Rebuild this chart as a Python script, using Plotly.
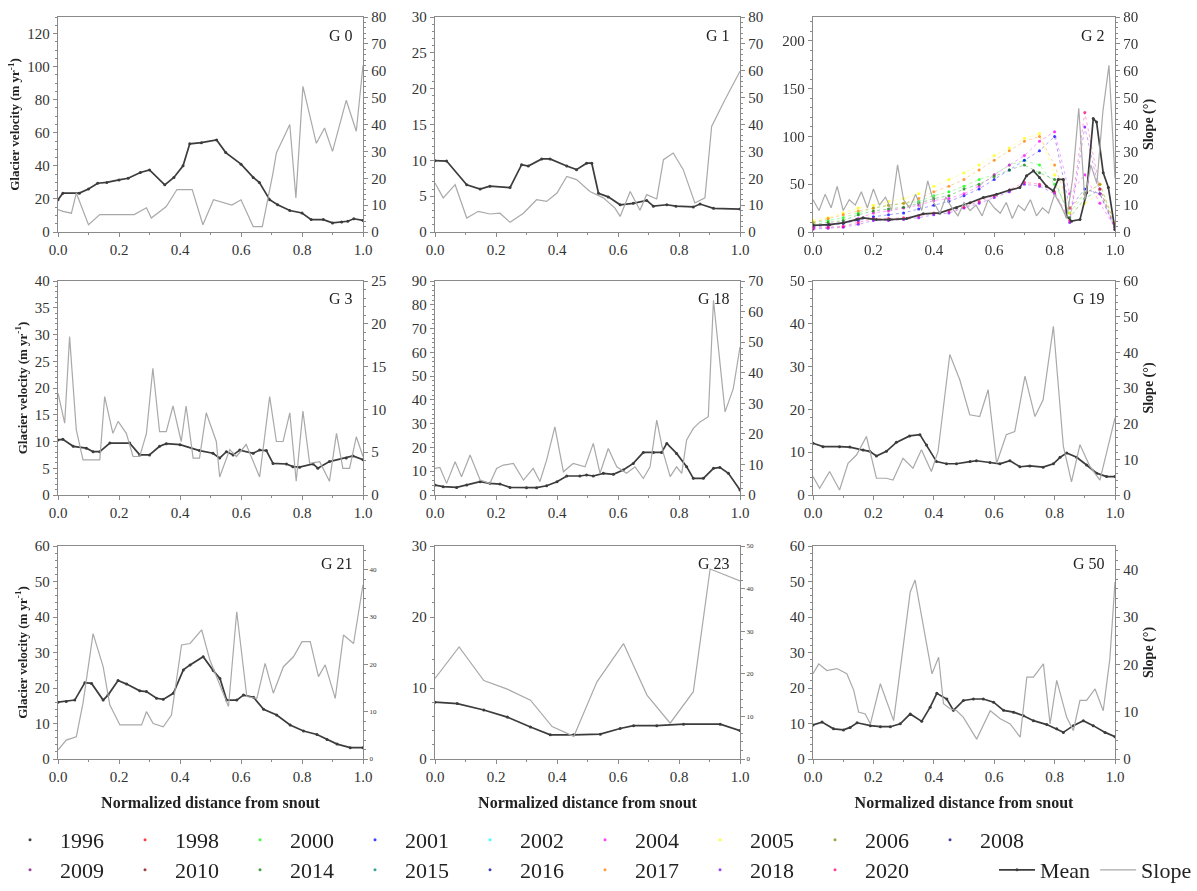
import plotly.graph_objects as go

# ---------------------------------------------------------------- data
YEARS = ["1996", "1998", "2000", "2001", "2002", "2004", "2005", "2006", "2008",
         "2009", "2010", "2014", "2015", "2016", "2017", "2018", "2020"]
YEAR_COLORS = ["#000000", "#ff0000", "#00ff00", "#0000ff", "#00ffff", "#ff00ff",
               "#ffff00", "#808000", "#000080", "#800080", "#800000", "#008000",
               "#008080", "#0000a0", "#ff8000", "#8000ff", "#ff0080"]

PANEL_NAMES = ["G 0", "G 1", "G 2", "G 3", "G 18", "G 19", "G 21", "G 23", "G 50"]

# G 0
G0_MEAN_X = [0, 0.016, 0.07, 0.1, 0.13, 0.16, 0.2, 0.23, 0.27, 0.3, 0.35, 0.38, 0.41,
             0.432, 0.47, 0.52, 0.55, 0.6, 0.64, 0.66, 0.694, 0.72, 0.76, 0.8, 0.83,
             0.87, 0.9, 0.93, 0.95, 0.97, 1.0]
G0_MEAN = [19.5, 23.5, 23.5, 26, 29.5, 30, 31.5, 32.5, 36, 37.5, 28.5, 33, 40, 53.3,
           54, 55.7, 48, 41, 33, 30, 19.5, 16.5, 13, 11.5, 7.5, 7.5, 5.5, 6, 6.5, 8, 7]
G0_SLOPE_X = [0, 0.016, 0.044, 0.06, 0.1, 0.137, 0.25, 0.29, 0.306, 0.355, 0.39, 0.44,
              0.475, 0.51, 0.57, 0.6, 0.64, 0.67, 0.705, 0.716, 0.76, 0.78, 0.803,
              0.847, 0.874, 0.9, 0.945, 0.978, 1.0]
G0_SLOPE = [8.3, 7.7, 7, 14.5, 2.7, 6.5, 6.5, 9, 5.2, 9.5, 15.8, 15.8, 2.7, 12, 10, 12,
            2, 2, 22, 29.4, 40, 12.7, 54.2, 33, 38.7, 30, 49, 37.5, 62]

# G 1
G1_MEAN_X = [0, 0.038, 0.104, 0.148, 0.18, 0.246, 0.284, 0.306, 0.35, 0.377, 0.432,
             0.464, 0.497, 0.514, 0.536, 0.568, 0.607, 0.65, 0.694, 0.716, 0.76, 0.79,
             0.847, 0.869, 0.913, 1.0]
G1_MEAN = [9.95, 9.9, 6.6, 6.0, 6.4, 6.2, 9.4, 9.2, 10.2, 10.2, 9.2, 8.7, 9.6, 9.6,
           5.4, 4.9, 3.8, 4.0, 4.4, 3.6, 3.8, 3.6, 3.5, 3.9, 3.3, 3.2]
G1_SLOPE_X = [0, 0.027, 0.066, 0.104, 0.142, 0.18, 0.213, 0.246, 0.29, 0.333, 0.366,
              0.4, 0.432, 0.464, 0.508, 0.552, 0.59, 0.607, 0.64, 0.672, 0.694, 0.727,
              0.749, 0.781, 0.814, 0.852, 0.885, 0.907, 0.951, 1.0]
G1_SLOPE = [18.2, 12.7, 17.6, 5.2, 7.7, 6.7, 7, 3.6, 7, 12, 11.4, 14.5, 20.7, 19.5,
            15.1, 12.7, 8.9, 5.8, 15.1, 8.1, 13.9, 12.3, 26.9, 29.4, 23.2, 10.8, 12.7,
            39.3, 49.3, 59.8]

# G 2
G2_MEAN_X = [0, 0.055, 0.1, 0.144, 0.166, 0.21, 0.254, 0.31, 0.365, 0.42, 0.475, 0.52,
             0.564, 0.608, 0.652, 0.685, 0.707, 0.73, 0.75, 0.773, 0.796, 0.812, 0.829,
             0.84, 0.856, 0.884, 0.906, 0.928, 0.939, 0.961, 0.978, 1.0]
G2_MEAN = [7, 7.7, 9.5, 13, 14.8, 13, 13, 14, 19, 20, 25.4, 30.6, 36, 39.4, 44, 46.5,
           58.8, 64, 57, 48, 43, 55, 55, 16.5, 11.3, 13, 41, 118.7, 115, 62, 46.5, 2.5]
G2_SLOPE_X = [0, 0.02, 0.04, 0.06, 0.08, 0.1, 0.12, 0.14, 0.16, 0.18, 0.2, 0.22, 0.24,
              0.26, 0.28, 0.3, 0.32, 0.34, 0.36, 0.38, 0.4, 0.42, 0.44, 0.46, 0.48, 0.5,
              0.52, 0.54, 0.56, 0.58, 0.6, 0.62, 0.64, 0.66, 0.68, 0.7, 0.72, 0.74,
              0.76, 0.78, 0.8, 0.82, 0.84, 0.86, 0.88, 0.9, 0.92, 0.94, 0.96, 0.98, 1.0]
G2_SLOPE = [12, 8, 14, 9, 17, 8, 12, 10, 15, 9, 16, 10, 13, 8, 25, 12, 9, 14, 8, 19,
            11, 7, 13, 9, 6, 11, 8, 10, 6, 12, 9, 7, 11, 5, 10, 8, 12, 6, 9, 7, 14, 10,
            5, 20, 46, 12, 25, 18, 45, 62, 20]

# G 2 annual velocity profiles (m/yr)
G2_YEAR_X = [0, 0.05, 0.1, 0.15, 0.2, 0.25, 0.3, 0.35, 0.4, 0.45, 0.5, 0.55, 0.6, 0.65,
             0.7, 0.75, 0.8, 0.85, 0.9, 0.95, 1.0]
G2_V2000 = [10, 12, 15, 20, 25, 28, 30, 32, 38, 42, 48, 55, 60, 70, 75, 70, 50, 20, 40, 50, 8]
G2_V2001 = [5, 7, 9, 12, 16, 18, 20, 24, 28, 32, 38, 45, 55, 65, 75, 85, 100, 25, 45, 40, 5]
G2_V2004 = [6, 8, 10, 14, 20, 22, 25, 28, 33, 35, 40, 48, 60, 70, 80, 95, 105, 40, 60, 30, 5]
G2_V2005 = [12, 15, 20, 25, 28, 32, 35, 40, 48, 55, 62, 70, 80, 88, 98, 103, 60, 20, 30, 40, 10]
G2_V2014 = [8, 10, 12, 18, 22, 24, 26, 30, 35, 38, 45, 50, 58, 65, 70, 62, 55, 15, 35, 45, 6]
G2_V2017 = [10, 14, 18, 22, 25, 28, 30, 35, 42, 48, 55, 65, 75, 85, 95, 100, 70, 25, 40, 50, 8]
G2_V2018 = [3, 4, 5, 8, 12, 12, 13, 15, 18, 20, 25, 30, 36, 42, 50, 48, 40, 10, 110, 40, 3]
G2_V2020 = [4, 5, 6, 10, 14, 14, 15, 17, 20, 22, 26, 32, 38, 44, 52, 50, 42, 12, 125, 45, 3]
G2_YEAR_SERIES = {"2000": G2_V2000, "2001": G2_V2001, "2004": G2_V2004, "2005": G2_V2005,
                  "2014": G2_V2014, "2017": G2_V2017, "2018": G2_V2018, "2020": G2_V2020}

# G 3
G3_MEAN_X = [0, 0.016, 0.05, 0.093, 0.115, 0.137, 0.17, 0.235, 0.268, 0.3, 0.333, 0.355,
             0.4, 0.464, 0.508, 0.53, 0.552, 0.574, 0.596, 0.64, 0.661, 0.683, 0.705,
             0.749, 0.77, 0.792, 0.836, 0.852, 0.89, 0.945, 0.967, 1.0]
G3_MEAN = [10.3, 10.4, 9.1, 8.75, 8.1, 8.1, 9.7, 9.7, 7.5, 7.5, 9.1, 9.6, 9.4, 8.3, 7.8,
           6.9, 8.1, 7.5, 8.4, 7.8, 8.4, 8.3, 5.9, 5.8, 5.3, 5.2, 5.8, 5.0, 6.25, 6.9,
           7.3, 6.6]
G3_SLOPE_X = [0, 0.022, 0.038, 0.06, 0.082, 0.115, 0.137, 0.153, 0.18, 0.197, 0.224,
              0.246, 0.268, 0.29, 0.311, 0.333, 0.355, 0.377, 0.404, 0.42, 0.443, 0.464,
              0.486, 0.519, 0.53, 0.563, 0.585, 0.617, 0.661, 0.694, 0.716, 0.738, 0.76,
              0.781, 0.803, 0.825, 0.858, 0.89, 0.913, 0.934, 0.956, 0.978, 1.0]
G3_SLOPE = [11.9, 8.4, 18.5, 7.6, 4.1, 4.1, 4.1, 11.5, 7.2, 8.6, 7.2, 4.5, 4.5, 7.2, 14.8,
            7.4, 7.4, 10.4, 6.25, 10.4, 4.3, 4.3, 9.6, 6.25, 2.1, 5.3, 4.5, 5.9, 2.1, 11.5,
            6.25, 6.25, 9.6, 1.6, 9.8, 3.7, 3.9, 1.6, 7.2, 3.1, 3.1, 6.8, 4.5]

# G 18
G18_MEAN_X = [0, 0.027, 0.071, 0.104, 0.148, 0.18, 0.213, 0.246, 0.3, 0.333, 0.366, 0.4,
              0.432, 0.475, 0.497, 0.519, 0.552, 0.585, 0.617, 0.65, 0.683, 0.716, 0.743,
              0.76, 0.792, 0.825, 0.847, 0.88, 0.913, 0.934, 0.962, 1.0]
G18_MEAN = [4.2, 3.5, 3.2, 4.2, 5.6, 4.9, 4.6, 3.2, 3.1, 3.1, 3.9, 5.6, 8.0, 8.0, 8.4,
            8.0, 9.1, 8.7, 10.5, 13.3, 17.9, 17.9, 17.9, 21.7, 17.5, 11.9, 7.0, 7.0, 11.2,
            11.6, 9.1, 2.1]
G18_SLOPE_X = [0, 0.016, 0.038, 0.066, 0.087, 0.115, 0.148, 0.18, 0.202, 0.224, 0.257,
               0.29, 0.322, 0.344, 0.366, 0.393, 0.421, 0.453, 0.492, 0.519, 0.541, 0.568,
               0.596, 0.628, 0.656, 0.683, 0.705, 0.727, 0.749, 0.771, 0.792, 0.809,
               0.825, 0.847, 0.869, 0.896, 0.913, 0.951, 0.978, 1.0]
G18_SLOPE = [8.7, 9.0, 3.8, 10.9, 6.0, 13.1, 4.9, 3.8, 8.7, 9.8, 10.3, 4.9, 8.7, 4.4, 11.4,
             22.3, 7.6, 10.3, 9.2, 16.9, 7.1, 15.2, 9.2, 7.1, 9.2, 5.4, 9.2, 24.5, 13.6,
             6.0, 9.2, 7.1, 18.0, 21.8, 23.9, 25.6, 63.7, 27.2, 34.8, 48.4]

# G 19
G19_MEAN_X = [0, 0.033, 0.088, 0.122, 0.166, 0.188, 0.21, 0.243, 0.276, 0.32, 0.354,
              0.376, 0.409, 0.442, 0.475, 0.52, 0.541, 0.586, 0.619, 0.652, 0.685, 0.718,
              0.762, 0.796, 0.818, 0.84, 0.873, 0.906, 0.939, 0.972, 1.0]
G19_MEAN = [12.1, 11.3, 11.3, 11.2, 10.5, 10.2, 9.1, 10.2, 12.3, 13.8, 14.1, 11.7, 7.8,
            7.3, 7.3, 7.8, 8.0, 7.6, 7.3, 8.0, 6.6, 6.8, 6.5, 7.3, 8.8, 9.8, 8.8, 7.0,
            5.1, 4.3, 4.3]
G19_SLOPE_X = [0, 0.022, 0.055, 0.088, 0.116, 0.144, 0.177, 0.21, 0.243, 0.265, 0.298,
               0.331, 0.359, 0.392, 0.414, 0.453, 0.486, 0.519, 0.552, 0.58, 0.608, 0.64,
               0.668, 0.702, 0.735, 0.762, 0.796, 0.829, 0.856, 0.884, 0.917, 0.95, 1.0]
G19_SLOPE = [5.2, 1.9, 6.6, 1.4, 8.9, 11.2, 16.4, 4.7, 4.7, 4.2, 10.3, 7.5, 12.7, 6.6,
             12.2, 39.4, 32.3, 22.5, 22.0, 29.5, 8.9, 16.9, 17.8, 33.3, 22.0, 26.7, 47.3,
             13.6, 3.7, 14.1, 8.0, 4.2, 21.6]

# G 21
G21_MEAN_X = [0, 0.027, 0.055, 0.088, 0.11, 0.148, 0.164, 0.197, 0.225, 0.268, 0.29,
              0.323, 0.345, 0.378, 0.411, 0.433, 0.476, 0.509, 0.531, 0.553, 0.586, 0.608,
              0.641, 0.674, 0.717, 0.761, 0.805, 0.849, 0.882, 0.915, 0.958, 1.0]
G21_MEAN = [16, 16.2, 16.6, 21.5, 21.3, 16.6, 18.0, 22.1, 21.1, 19.2, 19.0, 17.1, 16.8,
            18.5, 25.1, 26.5, 28.8, 24.9, 22.7, 16.6, 16.6, 18.0, 17.4, 14.0, 12.4, 9.6,
            7.9, 6.9, 5.5, 4.2, 3.2, 3.2]
G21_SLOPE_X = [0, 0.027, 0.06, 0.082, 0.115, 0.148, 0.17, 0.203, 0.246, 0.274, 0.29,
               0.312, 0.345, 0.372, 0.405, 0.433, 0.471, 0.498, 0.531, 0.559, 0.586,
               0.619, 0.652, 0.679, 0.706, 0.739, 0.772, 0.8, 0.827, 0.854, 0.876, 0.909,
               0.936, 0.969, 1.0]
G21_SLOPE = [1.9, 4.0, 4.7, 11.8, 26.5, 19.5, 11.4, 7.2, 7.2, 7.2, 10.0, 7.5, 6.8, 9.3,
             24.1, 24.4, 27.3, 20.9, 15.6, 11.1, 31.1, 13.2, 12.8, 20.2, 13.9, 19.5, 21.6,
             24.8, 24.8, 17.4, 19.9, 12.8, 26.2, 24.4, 36.8]

# G 23
G23_MEAN_X = [0, 0.073, 0.16, 0.237, 0.313, 0.378, 0.455, 0.542, 0.607, 0.651, 0.727,
              0.815, 0.935, 1.0]
G23_MEAN = [8.0, 7.8, 6.9, 5.9, 4.5, 3.4, 3.4, 3.5, 4.3, 4.7, 4.7, 4.9, 4.9, 4.0]
G23_SLOPE_X = [0, 0.079, 0.16, 0.237, 0.313, 0.384, 0.455, 0.531, 0.618, 0.695, 0.771,
               0.847, 0.902, 1.0]
G23_SLOPE = [18.9, 26.3, 18.4, 16.4, 13.8, 7.6, 5.3, 18.1, 27.1, 15.0, 8.4, 15.8, 44.6, 41.8]

# G 50
G50_MEAN_X = [0, 0.03, 0.068, 0.101, 0.123, 0.146, 0.19, 0.223, 0.256, 0.289, 0.322,
              0.36, 0.388, 0.41, 0.443, 0.465, 0.498, 0.531, 0.564, 0.598, 0.631, 0.664,
              0.697, 0.73, 0.774, 0.807, 0.829, 0.862, 0.895, 0.928, 0.967, 1.0]
G50_MEAN = [9.6, 10.4, 8.5, 8.2, 8.9, 10.2, 9.4, 9.1, 9.1, 9.9, 12.7, 10.6, 14.6, 18.5,
            16.9, 13.7, 16.5, 16.9, 16.9, 16.0, 13.7, 13.2, 12.2, 10.8, 9.7, 8.5, 7.5,
            9.4, 10.8, 9.4, 7.5, 6.3]
G50_SLOPE_X = [0, 0.019, 0.046, 0.079, 0.112, 0.135, 0.151, 0.173, 0.19, 0.223, 0.267,
               0.3, 0.322, 0.338, 0.366, 0.394, 0.416, 0.432, 0.454, 0.476, 0.498, 0.542,
               0.587, 0.62, 0.653, 0.686, 0.708, 0.73, 0.763, 0.785, 0.807, 0.84, 0.862,
               0.884, 0.906, 0.934, 0.961, 0.983, 1.0]
G50_SLOPE = [18.0, 20.1, 18.7, 19.1, 18.0, 14.5, 9.9, 9.5, 7.4, 15.9, 8.1, 24.4, 35.3,
             37.8, 28.2, 18.0, 21.5, 11.7, 10.6, 10.2, 8.8, 4.2, 10.2, 8.5, 7.4, 4.6, 17.3,
             17.3, 20.1, 7.4, 16.6, 8.8, 6.0, 12.4, 12.4, 14.8, 10.2, 21.2, 37.4]

# axis extents and tick steps per panel
VEL_RANGES = [130, 30, 225, 40, 90, 50, 60, 30, 60]
VEL_STEPS = [20, 5, 50, 5, 10, 10, 10, 10, 10]
SLOPE_RANGES = [80, 80, 80, 25, 70, 60, 45, 50, 45]
SLOPE_STEPS = [10, 10, 10, 5, 10, 10, 10, 10, 10]

MEAN_SERIES = [(G0_MEAN_X, G0_MEAN), (G1_MEAN_X, G1_MEAN), (G2_MEAN_X, G2_MEAN),
               (G3_MEAN_X, G3_MEAN), (G18_MEAN_X, G18_MEAN), (G19_MEAN_X, G19_MEAN),
               (G21_MEAN_X, G21_MEAN), (G23_MEAN_X, G23_MEAN), (G50_MEAN_X, G50_MEAN)]
SLOPE_SERIES = [(G0_SLOPE_X, G0_SLOPE), (G1_SLOPE_X, G1_SLOPE), (G2_SLOPE_X, G2_SLOPE),
                (G3_SLOPE_X, G3_SLOPE), (G18_SLOPE_X, G18_SLOPE), (G19_SLOPE_X, G19_SLOPE),
                (G21_SLOPE_X, G21_SLOPE), (G23_SLOPE_X, G23_SLOPE), (G50_SLOPE_X, G50_SLOPE)]

# ---------------------------------------------------------------- style
W, H = 1197, 891
SERIF = "Liberation Serif, Times New Roman, serif"
AXIS_COLOR = "#8a8a8a"
TICK_FONT_COLOR = "#333333"
MEAN_COLOR = "#3c3c3c"
SLOPE_COLOR = "#a9a9a9"

COL_PX = [(58, 363), (435, 740), (813, 1115)]
ROW_PX = [(17, 232), (281, 495), (546, 759)]

fig = go.Figure()

# annual profiles of G 2 plus legend entries for every year
for i, (year, color) in enumerate(zip(YEARS, YEAR_COLORS)):
    legend_name = "legend" if i < 9 else "legend2"
    vals = G2_YEAR_SERIES.get(year)
    if vals is not None:
        fig.add_trace(go.Scatter(
            x=G2_YEAR_X, y=vals, mode="lines", xaxis="x3", yaxis="y5",
            line=dict(color=color, width=0.8, dash="dot"), opacity=0.45,
            showlegend=False, hoverinfo="skip"))
    fig.add_trace(go.Scatter(
        x=G2_YEAR_X if vals is not None else [None],
        y=vals if vals is not None else [None],
        mode="markers", name=year, xaxis="x3", yaxis="y5",
        marker=dict(color=color, size=3), opacity=0.75,
        legend=legend_name, showlegend=True))

for k in range(9):
    xs = "x" if k == 0 else f"x{k + 1}"
    yv = "y" if k == 0 else f"y{2 * k + 1}"
    ys = f"y{2 * k + 2}"
    sx, sy = SLOPE_SERIES[k]
    mx, my = MEAN_SERIES[k]
    fig.add_trace(go.Scatter(
        x=sx, y=sy, mode="lines", name="Slope", xaxis=xs, yaxis=ys,
        line=dict(color=SLOPE_COLOR, width=1.2),
        legend="legend3", showlegend=(k == 0)))
    fig.add_trace(go.Scatter(
        x=mx, y=my, mode="lines+markers", name="Mean", xaxis=xs, yaxis=yv,
        line=dict(color=MEAN_COLOR, width=1.7),
        marker=dict(color=MEAN_COLOR, size=3),
        legend="legend3", showlegend=(k == 0)))

layout = dict(
    width=W, height=H, margin=dict(l=0, r=0, t=0, b=0),
    paper_bgcolor="white", plot_bgcolor="white",
    font=dict(family=SERIF, color=TICK_FONT_COLOR, size=15),
    showlegend=True,
)

for k in range(9):
    r, c = divmod(k, 3)
    x0, x1 = COL_PX[c]
    y0, y1 = ROW_PX[r]
    xname = "xaxis" if k == 0 else f"xaxis{k + 1}"
    yvname = "yaxis" if k == 0 else f"yaxis{2 * k + 1}"
    ysname = f"yaxis{2 * k + 2}"
    xs = "x" if k == 0 else f"x{k + 1}"
    yv = "y" if k == 0 else f"y{2 * k + 1}"

    layout[xname] = dict(
        domain=[x0 / W, x1 / W], anchor=yv, range=[0, 1.0], dtick=0.2,
        tickformat=".1f", showline=True, linecolor=AXIS_COLOR, linewidth=1.3,
        mirror=True, ticks="outside", ticklen=4, tickcolor=AXIS_COLOR,
        minor=dict(ticks="outside", ticklen=2, dtick=0.1, tickcolor=AXIS_COLOR),
        showgrid=False, zeroline=False, automargin=False,
        tickfont=dict(family=SERIF, size=15, color=TICK_FONT_COLOR),
    )
    if r == 2:
        layout[xname]["title"] = dict(
            text="Normalized distance from snout", standoff=12,
            font=dict(family=SERIF, size=16, color="#222222", weight="bold"))

    layout[yvname] = dict(
        domain=[1 - y1 / H, 1 - y0 / H], anchor=xs, range=[0, VEL_RANGES[k]],
        dtick=VEL_STEPS[k], showline=True, linecolor=AXIS_COLOR, linewidth=1.3,
        ticks="outside", ticklen=4, tickcolor=AXIS_COLOR,
        minor=dict(ticks="outside", ticklen=2, tickcolor=AXIS_COLOR),
        showgrid=False, zeroline=False, automargin=False,
        tickfont=dict(family=SERIF, size=15, color=TICK_FONT_COLOR),
    )
    if c == 0:
        layout[yvname]["title"] = dict(
            text="Glacier velocity (m yr<sup>-1</sup>)", standoff=4,
            font=dict(family=SERIF, size=13, color="#222222", weight="bold"))

    small = k in (6, 7)
    layout[ysname] = dict(
        overlaying=yv, anchor=xs, side="right", range=[0, SLOPE_RANGES[k]],
        dtick=SLOPE_STEPS[k], showline=True, linecolor=AXIS_COLOR, linewidth=1.3,
        ticks="outside", ticklen=4, tickcolor=AXIS_COLOR,
        minor=dict(ticks="outside", ticklen=2, tickcolor=AXIS_COLOR),
        showgrid=False, zeroline=False, automargin=False,
        tickfont=dict(family=SERIF, size=7 if small else 15, color=TICK_FONT_COLOR),
    )
    if c == 2:
        layout[ysname]["title"] = dict(
            text="Slope (°)", standoff=6,
            font=dict(family=SERIF, size=14, color="#222222", weight="bold"))

fig.update_layout(**layout)

# glacier identifiers in the upper-right corner of each panel
for k, name in enumerate(PANEL_NAMES):
    xs = "x" if k == 0 else f"x{k + 1}"
    yv = "y" if k == 0 else f"y{2 * k + 1}"
    fig.add_annotation(text=name, xref=f"{xs} domain", yref=f"{yv} domain",
                       x=0.975, y=0.965, xanchor="right", yanchor="top",
                       showarrow=False, font=dict(family=SERIF, size=16, color="#222222"))

legend_common = dict(orientation="h", font=dict(family=SERIF, size=22, color="#222222"),
                     bgcolor="rgba(0,0,0,0)", tracegroupgap=0)
fig.update_layout(
    legend=dict(x=0.0, y=1 - 840 / H, yanchor="middle", itemwidth=50,
                entrywidth=50, entrywidthmode="pixels", **legend_common),
    legend2=dict(x=0.0, y=0.0, yanchor="bottom", itemwidth=50,
                 entrywidth=50, entrywidthmode="pixels", **legend_common),
    legend3=dict(x=1.0, y=0.0, xanchor="right", yanchor="bottom", itemwidth=36,
                 traceorder="reversed", **legend_common),
)

fig.write_html("out.html")
